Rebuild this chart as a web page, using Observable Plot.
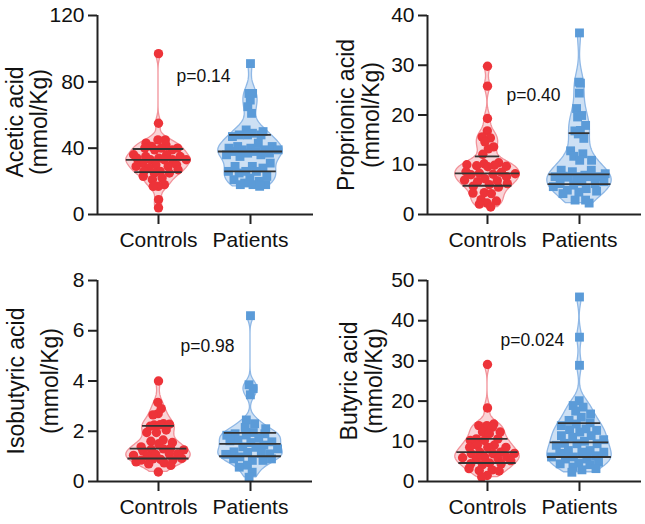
<!DOCTYPE html>
<html><head><meta charset="utf-8">
<script src="https://cdn.jsdelivr.net/npm/d3@7"></script>
<script src="https://cdn.jsdelivr.net/npm/@observablehq/plot@0.6"></script>
<style>
body{margin:0;background:#fff;}
#chart{position:relative;width:645px;height:524px;overflow:hidden;}
#chart > svg{position:absolute;}
</style></head><body><div id="chart"></div>
<script>
const groups = ["Controls", "Patients"];

const aceticControls = [97, 55, 45, 45, 43, 42, 41, 40, 40, 40, 39, 39, 36, 36, 35, 35, 34, 34, 33, 33, 33, 33, 31, 30, 30, 29, 29, 28, 27, 26, 26, 25, 25, 23, 22, 21, 18, 17, 17, 9, 4];
const aceticPatients = [91, 73, 73, 69, 65, 61, 51, 50, 49, 48, 48, 48, 47, 43, 41, 41, 40, 40, 39, 39, 39, 38, 38, 37, 37, 36, 36, 35, 31, 29, 29, 28, 26, 26, 26, 25, 23, 22, 21, 20, 19, 18, 18, 18, 17];

const propionicControls = [29.8, 25.8, 19.3, 16.8, 15.6, 15.4, 14.6, 13.6, 13.2, 12.1, 10.4, 10.2, 10.0, 9.9, 9.8, 9.7, 9.6, 8.6, 8.5, 8.3, 8.2, 8.1, 8.0, 7.6, 7.2, 6.9, 6.8, 6.6, 6.2, 6.0, 5.7, 5.5, 4.4, 4.3, 4.2, 3.0, 2.7, 2.3, 2.1, 1.5];
const propionicPatients = [36.5, 26.6, 26.4, 24.4, 21.3, 19.9, 19.6, 17.9, 16.9, 16.8, 15.3, 16.2, 12.8, 12.2, 11.7, 10.9, 10.9, 8.9, 8.9, 8.6, 8.2, 7.9, 7.7, 7.6, 7.6, 7.6, 7.6, 7.5, 6.6, 6.6, 6.2, 6.2, 5.9, 5.6, 5.2, 4.9, 4.7, 4.5, 4.2, 2.9, 2.9, 2.3];

const isobutyricControls = [4.0, 3.15, 2.9, 2.7, 2.65, 2.3, 2.25, 2.28, 2.26, 2.2, 2.05, 1.95, 1.95, 1.65, 1.6, 1.55, 1.5, 1.38, 1.32, 1.28, 1.26, 1.3, 1.22, 1.1, 1.08, 1.04, 1.1, 1.02, 0.92, 0.88, 0.85, 0.86, 0.9, 0.78, 0.74, 0.7, 0.64, 0.38];
const isobutyricPatients = [6.6, 3.85, 3.7, 3.45, 2.45, 2.3, 2.15, 2.1, 1.95, 1.9, 1.9, 1.85, 1.84, 1.72, 1.65, 1.58, 1.55, 1.62, 1.45, 1.38, 1.3, 1.36, 1.18, 1.1, 1.16, 1.08, 1.12, 0.98, 0.9, 0.84, 0.9, 0.84, 0.65, 0.57, 0.37, 0.17];

const butyricControls = [29.1, 18.3, 14.3, 13.9, 13.9, 13.5, 12.3, 12.3, 11.9, 10.6, 10.6, 10.2, 10.2, 9.0, 9.0, 8.5, 8.5, 8.5, 7.3, 7.3, 7.0, 6.9, 6.9, 6.1, 6.1, 5.9, 5.6, 5.6, 5.2, 4.6, 4.4, 4.4, 4.2, 3.2, 2.9, 2.7, 2.6, 1.5, 1.1];
const butyricPatients = [45.9, 35.9, 28.9, 20.1, 18.9, 18.5, 17.5, 16.8, 16.0, 15.2, 14.6, 14.3, 13.9, 13.1, 12.9, 12.7, 12.3, 11.4, 11.4, 11.0, 10.4, 10.0, 9.5, 9.4, 9.4, 9.0, 7.7, 7.7, 7.3, 7.3, 7.0, 6.4, 6.1, 6.1, 5.6, 5.6, 4.8, 4.6, 4.4, 4.2, 3.6, 3.2, 2.9, 2.3];

const yLabels = [["Acetic acid", "(mmol/Kg)"], ["Proprionic acid", "(mmol/Kg)"], ["Isobutyric acid", "(mmol/Kg)"], ["Butyric acid", "(mmol/Kg)"]];
const yTicks = [[0, 40, 80, 120], [0, 10, 20, 30, 40], [0, 2, 4, 6, 8], [0, 10, 20, 30, 40, 50]];
const pValues = ["p=0.14", "p=0.40", "p=0.98", "p=0.024"];

const layout = [
  {data: [aceticControls, aceticPatients], left: 0, top: 0, width: 320, height: 260, mL: 97, mR: 7, mT: 15, mB: 46, xd: [0.337, 2.685], px: 1.196, py: 83, l1: -82, l2: -58, ldy: 7},
  {data: [propionicControls, propionicPatients], left: 320, top: 0, width: 325, height: 260, mL: 107, mR: 4, mT: 15, mB: 46, xd: [0.348, 2.674], px: 1.207, py: 23.9, l1: -81, l2: -55.5, ldy: 0},
  {data: [isobutyricControls, isobutyricPatients], left: 0, top: 260, width: 320, height: 264, mL: 97, mR: 8, mT: 20, mB: 43, xd: [0.337, 2.674], px: 1.239, py: 5.38, l1: -81, l2: -47, ldy: 0},
  {data: [butyricControls, butyricPatients], left: 320, top: 260, width: 325, height: 264, mL: 107, mR: 4, mT: 20, mB: 43, xd: [0.348, 2.674], px: 1.141, py: 35.1, l1: -77.5, l2: -53, ldy: 0}
];

const styles = [
  {fill: "#f9cdd0", stroke: "#f2939a", dot: "#ed3339", symbol: "circle", r: 4.7},
  {fill: "#c4daf2", stroke: "#8fb8e6", dot: "#5b9bd8", symbol: "square", r: 5}
];

const FONT = "Liberation Sans, Arial, Helvetica, sans-serif";
const HALF = 0.35;

function quartile(sorted, p) {
  const pos = (sorted.length + 1) * p - 1;
  const lo = Math.max(0, Math.floor(pos)), hi = Math.min(sorted.length - 1, Math.ceil(pos));
  return sorted[lo] + (sorted[hi] - sorted[lo]) * (pos - lo);
}

function violinParts(values, center) {
  const n = values.length;
  const sorted = values.slice().sort((a, b) => a - b);
  const sd = d3.deviation(values);
  const iqr = d3.quantile(sorted, 0.75) - d3.quantile(sorted, 0.25);
  const h = 0.8 * 0.9 * Math.min(sd, iqr / 1.34) * Math.pow(n, -0.2);
  const dens = y => d3.mean(values, v => Math.exp(-0.5 * ((y - v) / h) ** 2)) / h;
  const lo = sorted[0], hi = sorted[n - 1];
  const grid = d3.range(0, 161).map(i => lo + (hi - lo) * i / 160);
  const dmax = d3.max(grid, dens);
  const w = y => HALF * dens(y) / dmax;
  const area = grid.map(y => ({y, x1: center - w(y), x2: center + w(y)}));
  const pts = values.map((v, i) => {
    const u = (((i + 1) * 0.6180339887) % 1) * 2 - 1;
    const ww = Math.max(0, w(v) - 0.035);
    return {y: v, x: center + u * ww};
  });
  const qs = [0.25, 0.5, 0.75].map(p => {
    const q = quartile(sorted, p);
    return {y: q, x1: center - w(q), x2: center + w(q)};
  });
  return {area, pts, qs};
}

const root = document.getElementById("chart");

layout.forEach((L, k) => {
  const marks = [];
  L.data.forEach((vals, g) => {
    const s = styles[g];
    const {area, pts, qs} = violinParts(vals, g + 1);
    marks.push(Plot.areaX(area, {y: "y", x1: "x1", x2: "x2", fill: s.fill, fillOpacity: 0.85, stroke: s.stroke, strokeWidth: 1.3}));
    marks.push(Plot.dot(pts, {x: "x", y: "y", r: s.r, fill: s.dot, symbol: s.symbol}));
    marks.push(Plot.ruleY(qs, {y: "y", x1: "x1", x2: "x2", stroke: "#333", strokeWidth: 1.8}));
  });
  marks.push(Plot.ruleY([0], {stroke: "#222", strokeWidth: 2}));
  marks.push(Plot.ruleX([L.xd[0]], {stroke: "#222", strokeWidth: 2}));
  marks.push(Plot.axisY({ticks: yTicks[k], tickSize: 9, tickPadding: 4, fontSize: 21, strokeWidth: 2, stroke: "#222", fill: "#111", label: null}));
  marks.push(Plot.axisX({ticks: [1, 2], tickFormat: d => groups[d - 1], tickSize: 10, tickPadding: 8, fontSize: 21, strokeWidth: 2, stroke: "#222", fill: "#111", label: null}));
  marks.push(Plot.text([pValues[k]], {x: L.px, y: L.py, text: d => d, textAnchor: "start", fontSize: 17.5, fill: "#111"}));
  marks.push(Plot.text([yLabels[k][0]], {text: d => d, frameAnchor: "left", textAnchor: "middle", lineAnchor: "middle", rotate: -90, dx: L.l1, dy: L.ldy, fontSize: 23, fill: "#111"}));
  marks.push(Plot.text([yLabels[k][1]], {text: d => d, frameAnchor: "left", textAnchor: "middle", lineAnchor: "middle", rotate: -90, dx: L.l2, dy: L.ldy, fontSize: 23, fill: "#111"}));

  const svg = Plot.plot({
    width: L.width, height: L.height,
    marginLeft: L.mL, marginRight: L.mR, marginTop: L.mT, marginBottom: L.mB,
    x: {domain: L.xd, axis: null},
    y: {domain: [yTicks[k][0], yTicks[k][yTicks[k].length - 1]], axis: null},
    style: {fontFamily: FONT, background: "transparent", color: "#111", overflow: "visible"},
    marks
  });
  svg.style.left = L.left + "px";
  svg.style.top = L.top + "px";
  root.appendChild(svg);
});
</script></body></html>
